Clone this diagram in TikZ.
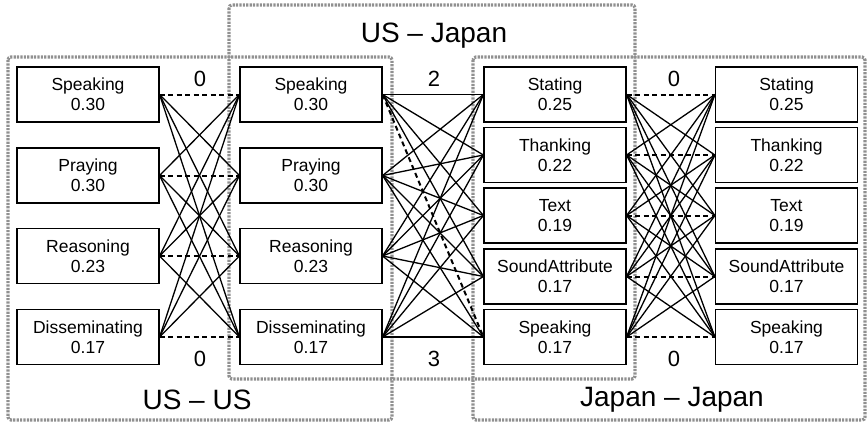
\documentclass[tikz,border=0pt]{standalone}
\usepackage{fontspec}
\setmainfont{Liberation Sans}
\usetikzlibrary{positioning}
\definecolor{frame}{HTML}{909090}
\tikzset{
  every node/.style={font=\fontsize{17.5}{20}\selectfont},
  act/.style={draw,fill=white,align=center,minimum width=142pt,minimum height=55pt,
              inner sep=0pt,line width=1.2pt},
  tie/.style={line width=1.3pt},
  same/.style={line width=2pt,dash pattern=on 5pt off 3.5pt},
  grp/.style={draw=frame,line width=3.2pt,dash pattern=on 2.2pt off 1.2pt,rounded corners=3pt},
  num/.style={font=\fontsize{22}{24}\selectfont,inner sep=0pt},
  grptitle/.style={font=\fontsize{28}{30}\selectfont,inner sep=0pt},
}

\begin{document}
\begin{tikzpicture}[x=1pt,y=-1pt]
\useasboundingbox (0,0) rectangle (868,424);

% group frames
\draw[grp] (229,5) rectangle (635,379);
\draw[grp] (8,57) rectangle (392,420);
\draw[grp] (473,57) rectangle (865,420);
\node[grptitle] (capuj) at (434,36) {US – Japan};
\node[grptitle] (capuu) at (197,400) {US – US};
\node[grptitle] (capjj) at (672,400) {Japan – Japan};

% US acts, two columns
\node[act] (ua1) at (88,94.5)  {Speaking\\0.30};
\node[act] (ua2) at (88,175.5) {Praying\\0.30};
\node[act] (ua3) at (88,256)   {Reasoning\\0.23};
\node[act] (ua4) at (88,337)   {Disseminating\\0.17};
\node[act] (ub1) at (311,94.5)  {Speaking\\0.30};
\node[act] (ub2) at (311,175.5) {Praying\\0.30};
\node[act] (ub3) at (311,256)   {Reasoning\\0.23};
\node[act] (ub4) at (311,337)   {Disseminating\\0.17};

% Japan acts, two columns
\node[act] (ja1) at (555,94.5)  {Stating\\0.25};
\node[act] (ja2) at (555,155)   {Thanking\\0.22};
\node[act] (ja3) at (555,215.5) {Text\\0.19};
\node[act] (ja4) at (555,276.5) {SoundAttribute\\0.17};
\node[act] (ja5) at (555,337)   {Speaking\\0.17};
\node[act] (jb1) at (786.5,94.5)  {Stating\\0.25};
\node[act] (jb2) at (786.5,155)   {Thanking\\0.22};
\node[act] (jb3) at (786.5,215.5) {Text\\0.19};
\node[act] (jb4) at (786.5,276.5) {SoundAttribute\\0.17};
\node[act] (jb5) at (786.5,337)   {Speaking\\0.17};

% US - US
\foreach \i in {1,...,4}{\foreach \j in {1,...,4}{
  \ifnum\i=\j \draw[same] (ua\i.east) -- (ub\j.west);
  \else \draw[tie] (ua\i.east) -- (ub\j.west); \fi}}
% US - Japan
\foreach \i in {1,...,4}{\foreach \j in {1,...,5}{
  \ifnum\numexpr\i*10+\j\relax=15 \draw[same] (ub\i.east) -- (ja\j.west);
  \else \draw[tie] (ub\i.east) -- (ja\j.west); \fi}}
% Japan - Japan
\foreach \i in {1,...,5}{\foreach \j in {1,...,5}{
  \ifnum\i=\j \draw[same] (ja\i.east) -- (jb\j.west);
  \else \draw[tie] (ja\i.east) -- (jb\j.west); \fi}}

% distances
\node[num] (duut) at (200,79)  {0};
\node[num] (duub) at (200,359) {0};
\node[num] (dujt) at (434,79)  {2};
\node[num] (dujb) at (434,359) {3};
\node[num] (djjt) at (674,79)  {0};
\node[num] (djjb) at (674,359) {0};
\end{tikzpicture}
\end{document}
